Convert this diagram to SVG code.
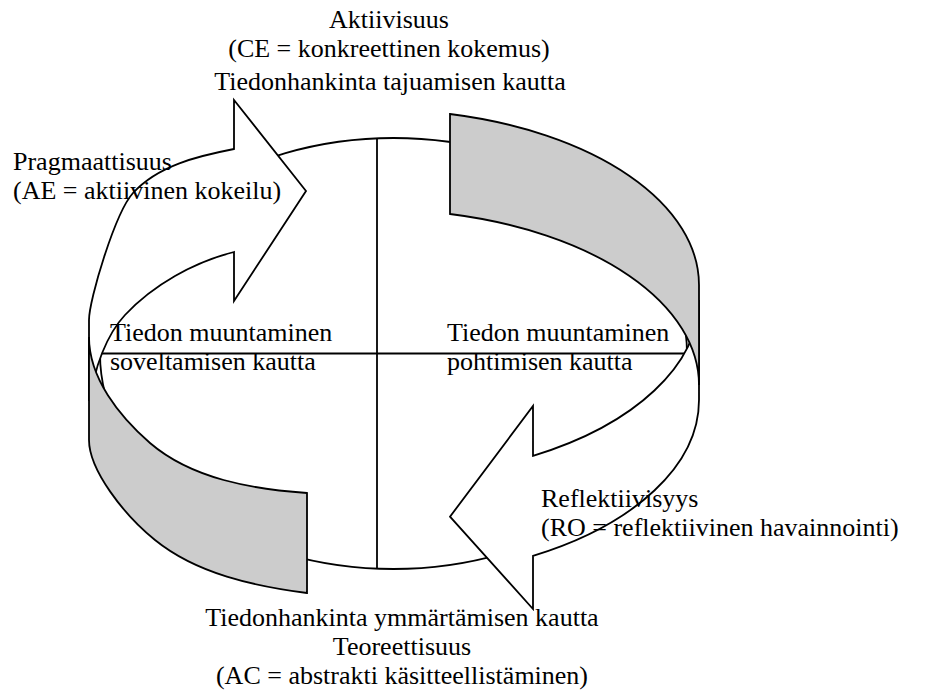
<svg xmlns="http://www.w3.org/2000/svg" width="925" height="695" viewBox="0 0 925 695">
<style>
.ln{fill:none;stroke:#000;stroke-width:1.8}
.w{fill:#fff;stroke:#000;stroke-width:1.8;stroke-linejoin:miter}
.g{fill:#cccccc;stroke:#000;stroke-width:1.8}
text{font-family:"Liberation Serif","Times New Roman",serif;font-size:26px;fill:#000}
.c{text-anchor:middle}
</style>
<rect width="925" height="695" fill="#fff"/>
<g id="disk">
<ellipse cx="393.5" cy="353.5" rx="293.5" ry="215.5" fill="#fff" stroke="#000" stroke-width="1.8"/>
<line class="ln" x1="377" y1="138.3" x2="377" y2="568.7"/>
<line class="ln" x1="98" y1="353.5" x2="687" y2="353.5"/>
</g>
<g id="connectors">
<path id="arrow-reflect" class="w" d="M699,300 A321,178 0 0 1 533,455.9 L533,406 L450,516.7 L533,609 L533,555.9 A321,178 0 0 0 699,400 Z"/>
<path id="band-right" class="g" d="M450,114 A321,175.5 0 0 1 699,285 L699,385 A321,175.5 0 0 0 450,214 Z"/>
<path id="arrow-pragma" class="w" d="M234,149 C198,156 158,165.5 133,193 C115,213 89,300 89,320 L89,400 L92,400 C92,370 108,333 125,315 C153,285 194,262 234,252 L234,301 L306,191 L234,100 Z"/>
<path id="band-left" class="g" d="M307,493 L307,593 C254,586 197,574 155,540 C124,515 89,470 89,440 L89,337 C89,378 119,416 150,443 C192,479 252,489 307,493 Z"/>
</g>
<g id="label-top">
<text class="c"><tspan x="389" y="27.5">Aktiivisuus</tspan><tspan x="389" y="56.5">(CE = konkreettinen kokemus)</tspan></text>
<text class="c" x="390" y="90">Tiedonhankinta tajuamisen kautta</text>
</g>
<g id="label-left">
<text><tspan x="13" y="170">Pragmaattisuus</tspan><tspan x="13" y="199">(AE = aktiivinen kokeilu)</tspan></text>
</g>
<g id="label-center-left">
<text><tspan x="110" y="341">Tiedon muuntaminen</tspan><tspan x="110" y="370">soveltamisen kautta</tspan></text>
</g>
<g id="label-center-right">
<text><tspan x="447" y="341">Tiedon muuntaminen</tspan><tspan x="447" y="370">pohtimisen kautta</tspan></text>
</g>
<g id="label-right">
<text><tspan x="541" y="507">Reflektiivisyys</tspan><tspan x="541" y="536">(RO = reflektiivinen havainnointi)</tspan></text>
</g>
<g id="label-bottom">
<text class="c" x="402" y="626">Tiedonhankinta ymmärtämisen kautta</text>
<text class="c"><tspan x="402" y="655">Teoreettisuus</tspan><tspan x="402" y="684">(AC = abstrakti käsitteellistäminen)</tspan></text>
</g>
</svg>
